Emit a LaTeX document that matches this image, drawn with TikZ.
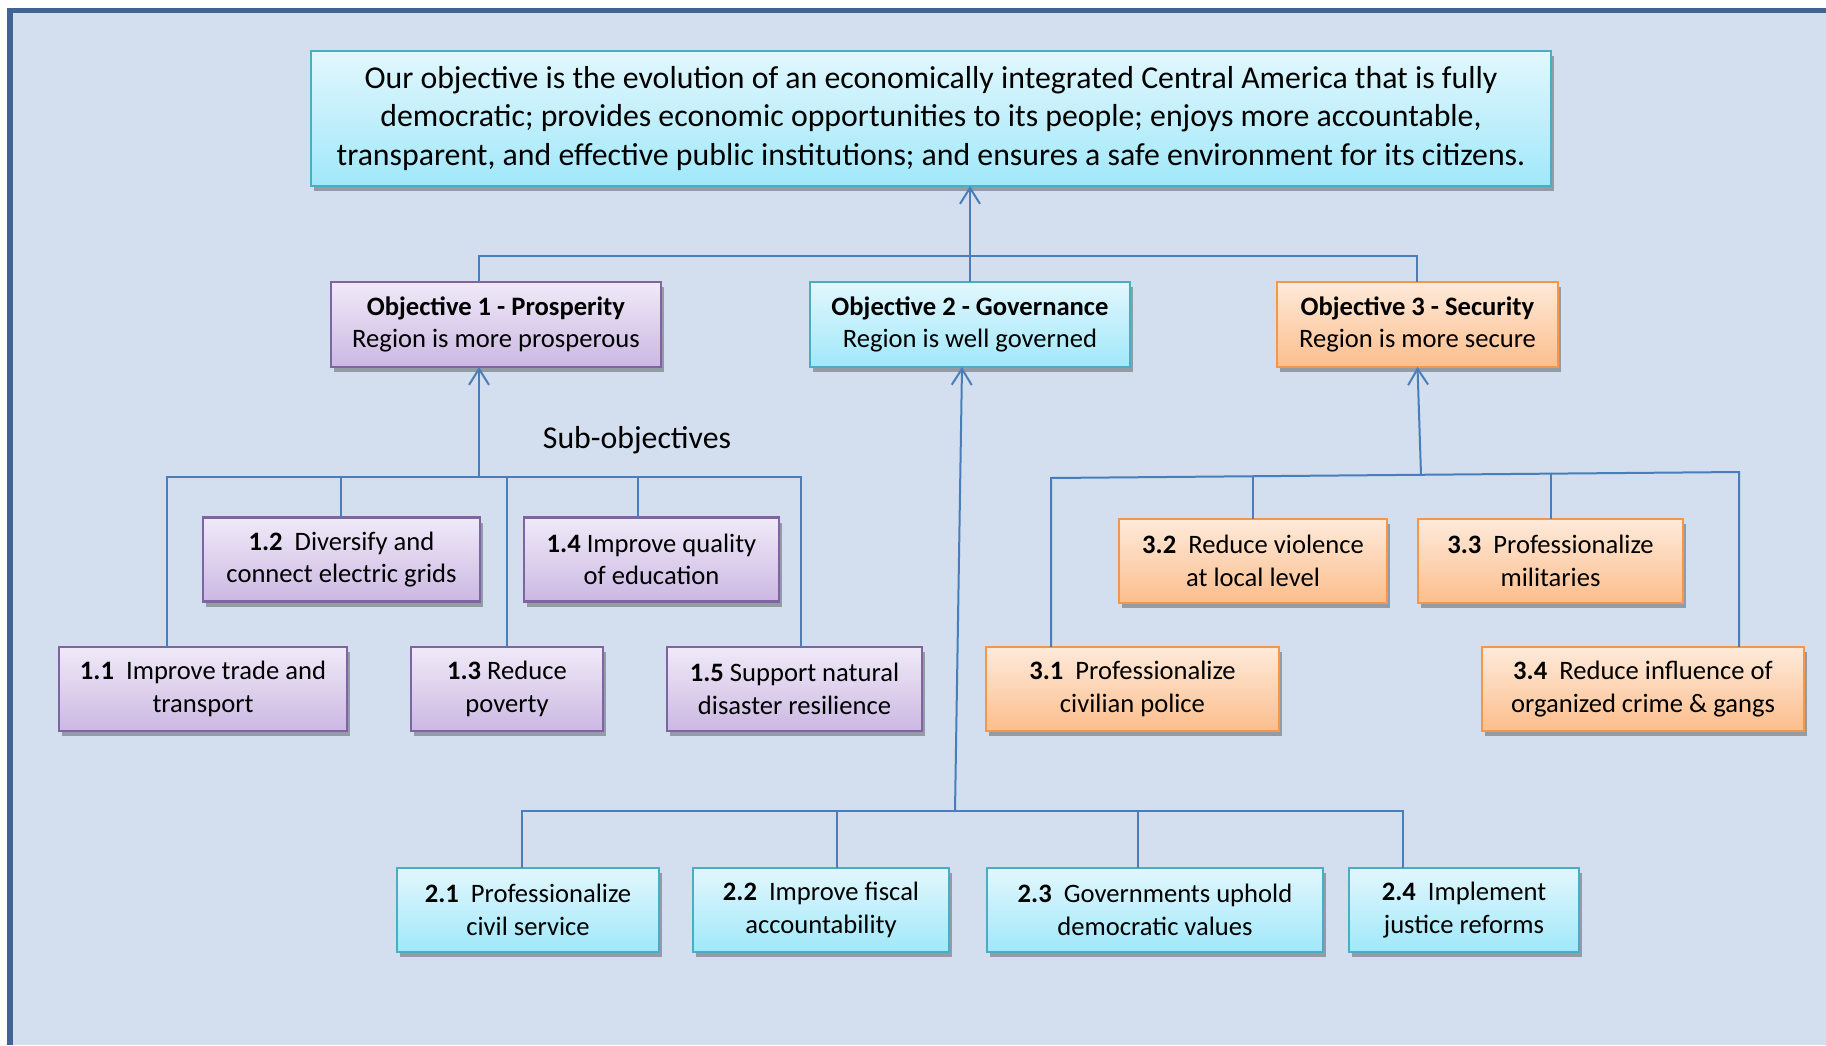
\documentclass[tikz,border=0pt]{standalone}
\usepackage{fontspec}
\setmainfont{Carlito}
\usetikzlibrary{arrows.meta,shadows}

\definecolor{bgblue}{RGB}{211,223,238}
\definecolor{frameblue}{RGB}{66,100,148}
\definecolor{linkblue}{RGB}{74,126,187}
\definecolor{aqualine}{RGB}{75,172,198}
\definecolor{aquatop}{RGB}{226,247,253}
\definecolor{aquabot}{RGB}{160,232,250}
\definecolor{purpleline}{RGB}{128,100,162}
\definecolor{purpletop}{RGB}{240,234,248}
\definecolor{purplebot}{RGB}{203,184,226}
\definecolor{orangeline}{RGB}{247,150,70}
\definecolor{orangetop}{RGB}{254,234,218}
\definecolor{orangebot}{RGB}{252,190,140}

\begin{document}
\begin{tikzpicture}[x=0.5pt,y=-0.5pt,
    box/.style={draw, line width=1.4pt, inner sep=0pt, outer sep=0pt, align=center,
        minimum height=42pt, font=\fontsize{13.3}{16.3}\selectfont,
        drop shadow={shadow xshift=1.5pt, shadow yshift=-2.5pt, opacity=0.3, fill=black}},
    aquabox/.style={box, draw=aqualine, top color=aquatop, bottom color=aquabot},
    purplebox/.style={box, draw=purpleline, top color=purpletop, bottom color=purplebot},
    orangebox/.style={box, draw=orangeline, top color=orangetop, bottom color=orangebot},
    link/.style={draw=linkblue, line width=1pt},
    uparrow/.style={link, -{Straight Barb[length=8pt,width=10pt]}}]

    % page and frame
    \useasboundingbox (0,0) rectangle (1826,1045);
    \fill[bgblue] (10,10) rectangle (1826,1045);
    \draw[frameblue, line width=2.6pt] (10,1045) -- (10,10.5) -- (1826,10.5);

    % overall objective
    \node[aquabox, minimum width=620pt, minimum height=67.5pt,
        font=\fontsize{15.9}{19.4}\selectfont] (goal) at (931,118.5)
        {Our objective is the evolution of an economically integrated Central America that is fully\\
         democratic; provides economic opportunities to its people; enjoys more accountable,\\
         transparent, and effective public institutions; and ensures a safe environment for its citizens.};

    % three objectives
    \node[purplebox, minimum width=165pt, minimum height=42.5pt] (obj1) at (496,324.5)
        {\textbf{Objective 1 - Prosperity}\\Region is more prosperous};
    \node[aquabox, minimum width=160pt, minimum height=42.5pt] (obj2) at (970,324.5)
        {\textbf{Objective 2 - Governance}\\Region is well governed};
    \node[orangebox, minimum width=140.5pt, minimum height=42.5pt] (obj3) at (1417.5,324.5)
        {\textbf{Objective 3 - Security}\\Region is more secure};

    \node[font=\fontsize{15.9}{19.4}\selectfont] (sublabel) at (637,440) {Sub-objectives};

    % sub-objectives 1
    \node[purplebox, minimum width=144pt] (b11) at (203,689) {\textbf{1.1}\ \ Improve trade and\\transport};
    \node[purplebox, minimum width=138.5pt] (b12) at (341.5,559.5) {\textbf{1.2}\ \ Diversify and\\connect electric grids};
    \node[purplebox, minimum width=96pt] (b13) at (507,689) {\textbf{1.3} Reduce\\poverty};
    \node[purplebox, minimum width=127.5pt] (b14) at (651.5,559.5) {\textbf{1.4} Improve quality\\of education};
    \node[purplebox, minimum width=127.5pt] (b15) at (794.5,689) {\textbf{1.5} Support natural\\disaster resilience};

    % sub-objectives 2
    \node[aquabox, minimum width=131pt] (b21) at (528,910) {\textbf{2.1}\ \ Professionalize\\civil service};
    \node[aquabox, minimum width=128pt] (b22) at (821,910) {\textbf{2.2}\ \ Improve fiscal\\accountability};
    \node[aquabox, minimum width=168pt] (b23) at (1155,910) {\textbf{2.3}\ \ Governments uphold\\democratic values};
    \node[aquabox, minimum width=115pt] (b24) at (1464,910) {\textbf{2.4}\ \ Implement\\justice reforms};

    % sub-objectives 3
    \node[orangebox, minimum width=146.5pt] (b31) at (1132.5,689) {\textbf{3.1}\ \ Professionalize\\civilian police};
    \node[orangebox, minimum width=134pt] (b32) at (1253,561) {\textbf{3.2}\ \ Reduce violence\\at local level};
    \node[orangebox, minimum width=132.5pt] (b33) at (1550.5,561) {\textbf{3.3}\ \ Professionalize\\militaries};
    \node[orangebox, minimum width=161pt] (b34) at (1643,689) {\textbf{3.4}\ \ Reduce influence of\\organized crime \& gangs};

    % objectives up to the goal
    \coordinate (t1) at (479,256);
    \coordinate (t2) at (970,256);
    \coordinate (t3) at (1417,256);
    \draw[link] (t1 |- obj1.north) -- (t1) -- (t3) -- (t3 |- obj3.north);
    \draw[uparrow] (t2 |- obj2.north) -- (t2 |- goal.south);

    % tree of objective 1
    \coordinate (s1) at (479,477);
    \coordinate (a11) at (167,477);
    \coordinate (a15) at (801,477);
    \draw[uparrow] (s1) -- (s1 |- obj1.south);
    \draw[link] (a11 |- b11.north) -- (a11) -- (a15) -- (a15 |- b15.north);
    \foreach \c/\n in {341/b12, 507/b13, 638/b14}
        \draw[link] (\c,477) -- (\c,477 |- \n.north);

    % tree of objective 2
    \coordinate (s2) at (955,811);
    \coordinate (a21) at (522,811);
    \coordinate (a24) at (1403,811);
    \draw[uparrow] (s2) -- ([xshift=-4pt]obj2.south);
    \draw[link] (a21 |- b21.north) -- (a21) -- (a24) -- (a24 |- b24.north);
    \foreach \c/\n in {837/b22, 1138/b23}
        \draw[link] (\c,811) -- (\c,811 |- \n.north);

    % tree of objective 3
    \coordinate (s3) at (1421,474.8);
    \coordinate (a31) at (1051,478);
    \coordinate (a34) at (1739,472);
    \draw[uparrow] (s3) -- (obj3.south);
    \draw[link] (a31 |- b31.north) -- (a31) -- (a34) -- (a34 |- b34.north);
    \draw[link] (1253,476.2) -- (1253,0 |- b32.north);
    \draw[link] (1551,473.6) -- (1551,0 |- b33.north);
\end{tikzpicture}
\end{document}
